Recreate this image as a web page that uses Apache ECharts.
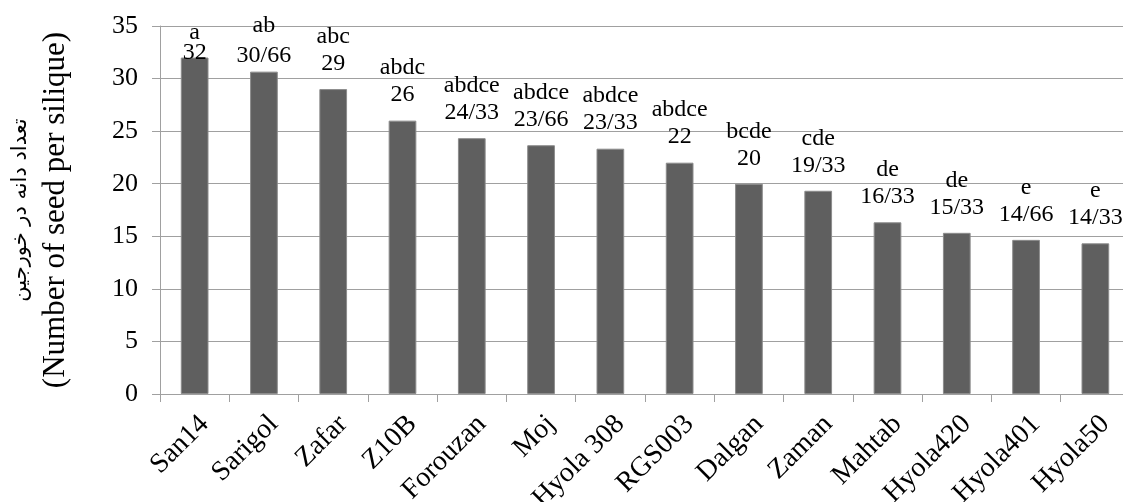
<!DOCTYPE html>
<html>
<head>
<meta charset="utf-8">
<script src="https://cdn.jsdelivr.net/npm/echarts@6/dist/echarts.min.js"></script>
<style>
  html, body { margin: 0; padding: 0; background: #ffffff; }
  #chart { width: 1123px; height: 502px; }
</style>
</head>
<body>
<div id="chart"></div>
<script>
// Cultivars
const cultivars = ['San14', 'Sarigol', 'Zafar', 'Z10B', 'Forouzan', 'Moj', 'Hyola 308',
  'RGS003', 'Dalgan', 'Zaman', 'Mahtab', 'Hyola420', 'Hyola401', 'Hyola50'];
// Mean number of seeds per silique
const seedsPerSilique = [32, 30.66, 29, 26, 24.33, 23.66, 23.33, 22, 20, 19.33, 16.33, 15.33, 14.66, 14.33];
// Mean-comparison groups
const groupLetters = ['a', 'ab', 'abc', 'abdc', 'abdce', 'abdce', 'abdce', 'abdce', 'bcde', 'cde', 'de', 'de', 'e', 'e'];
// Value axis ticks
const yTicks = [0, 5, 10, 15, 20, 25, 30, 35];

const serif = '"Liberation Serif", "Times New Roman", serif';

// Label spacing tweaks for the tallest bars, which sit close to the top edge
const labelTweaks = {
  0: { distance: -5, lineHeight: 20 },
  1: { distance: 1, lineHeight: 30 }
};

// Persian decimal separator is written as a slash
const fmtValue = v => String(v).replace('.', '/');

const barData = seedsPerSilique.map((v, i) => {
  const item = { value: v };
  if (labelTweaks[i]) item.label = Object.assign({}, labelTweaks[i]);
  return item;
});

const chart = echarts.init(document.getElementById('chart'), null, { renderer: 'canvas' });

chart.setOption({
  animation: false,
  backgroundColor: '#ffffff',
  // The plot runs a little past the right edge of the canvas; keep it fixed
  grid: { left: 160, top: 26, width: 970, height: 368, containLabel: false, outerBoundsMode: 'none' },
  xAxis: {
    type: 'category',
    data: cultivars,
    boundaryGap: true,
    axisLine: { show: true, lineStyle: { color: '#a0a0a0', width: 1 } },
    axisTick: { show: true, length: 8, inside: false, alignWithLabel: false, lineStyle: { color: '#a0a0a0' } },
    axisLabel: {
      rotate: 45, margin: 16, interval: 0,
      align: 'right', verticalAlign: 'top',
      color: '#000000', fontFamily: serif, fontSize: 28
    },
    splitLine: { show: false }
  },
  yAxis: {
    type: 'value',
    min: yTicks[0], max: yTicks[yTicks.length - 1], interval: yTicks[1] - yTicks[0],
    axisLine: { show: true, lineStyle: { color: '#a0a0a0', width: 1 } },
    axisTick: { show: true, length: 8, inside: false, lineStyle: { color: '#a0a0a0' } },
    axisLabel: { margin: 22, color: '#000000', fontFamily: serif, fontSize: 26 },
    splitLine: { show: true, lineStyle: { color: '#a0a0a0', width: 1 } },
    name: '{fa|تعداد دانه در خورجین}\n{en|(Number of seed per silique)}',
    nameLocation: 'middle',
    nameRotate: 90,
    nameGap: 86,
    nameTextStyle: {
      align: 'center',
      rich: {
        fa: { fontFamily: '"DejaVu Sans", sans-serif', fontSize: 21, lineHeight: 34, color: '#000000', align: 'center' },
        en: { fontFamily: serif, fontSize: 31, lineHeight: 36, color: '#000000', align: 'center' }
      }
    }
  },
  series: [{
    type: 'bar',
    data: barData,
    barWidth: '40%',
    itemStyle: { color: '#5f5f5f', borderColor: '#8c8c8c', borderWidth: 1 },
    label: {
      show: true,
      position: 'top',
      distance: 12,
      color: '#000000',
      fontFamily: serif,
      fontSize: 24,
      lineHeight: 27,
      align: 'center',
      formatter: p => groupLetters[p.dataIndex] + '\n' + fmtValue(p.value)
    }
  }]
});
</script>
</body>
</html>
